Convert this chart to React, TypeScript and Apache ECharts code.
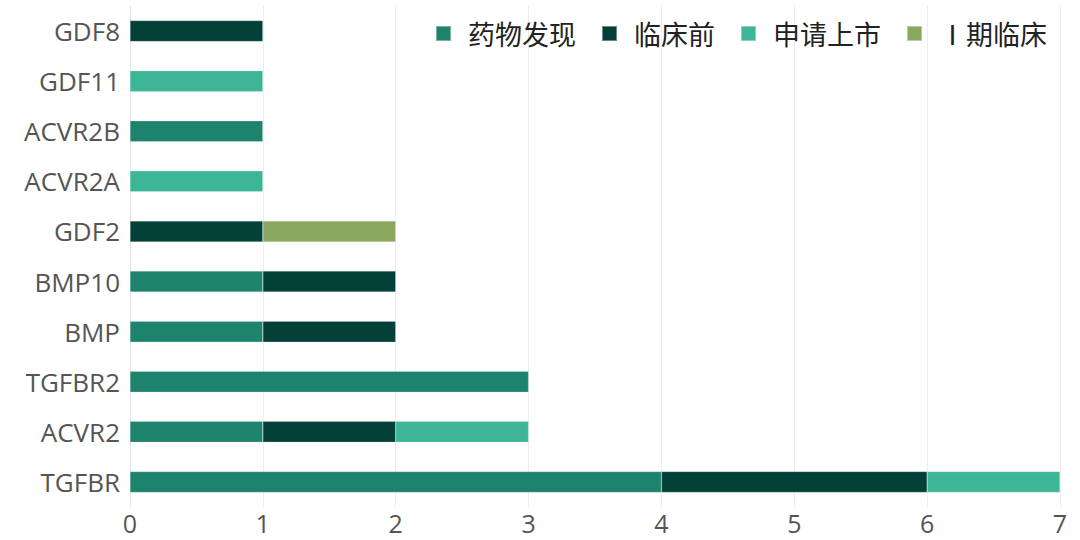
import React, { useEffect, useRef } from 'react';
import * as echarts from 'echarts';

const categories = ['TGFBR', 'ACVR2', 'TGFBR2', 'BMP', 'BMP10', 'GDF2', 'ACVR2A', 'ACVR2B', 'GDF11', 'GDF8'];
const seriesNames = ['药物发现', '临床前', '申请上市', 'Ⅰ期临床'];
const discovery = [4, 1, 3, 1, 1, 0, 0, 1, 0, 0];
const preclinical = [2, 1, 0, 1, 1, 1, 0, 0, 0, 1];
const filing = [1, 1, 0, 0, 0, 0, 1, 0, 1, 0];
const phase1 = [0, 0, 0, 0, 0, 1, 0, 0, 0, 0];
const colors = ['#1e836d', '#034037', '#3cb697', '#89a75e'];

function App() {
  const chartRef = useRef(null);

  useEffect(() => {
    const chart = echarts.init(chartRef.current, null, { renderer: 'svg' });
    const values = [discovery, preclinical, filing, phase1];

    const options = {
      animation: false,
      color: colors,
      legend: {
        right: 28,
        top: 15,
        itemWidth: 15,
        itemHeight: 15,
        itemGap: 25,
        icon: 'rect',
        textStyle: {
          fontSize: 27,
          color: '#222',
          fontFamily: 'Noto Sans CJK SC',
          padding: [0, 0, 0, 12],
        },
        data: seriesNames,
      },
      grid: { left: 130, right: 20, top: 6, bottom: 33 },
      xAxis: {
        type: 'value',
        min: 0,
        max: 7,
        interval: 1,
        axisLine: { show: false },
        axisTick: { show: false },
        splitLine: { lineStyle: { color: '#eeeeee' } },
        axisLabel: { fontSize: 25, color: '#555', fontFamily: 'Open Sans', margin: 3 },
      },
      yAxis: {
        type: 'category',
        data: categories,
        axisLine: { lineStyle: { color: '#e4e4e4' } },
        axisTick: { lineStyle: { color: '#e4e4e4' }, length: 7 },
        axisLabel: { fontSize: 26, color: '#555', fontFamily: 'Open Sans', margin: 10 },
      },
      series: seriesNames.map((name, i) => ({
        name,
        type: 'bar',
        stack: 'total',
        barWidth: 21,
        itemStyle: { borderColor: 'rgba(255,255,255,0.4)', borderWidth: 0.5 },
        data: values[i].map((v) => (v === 0 ? null : v)),
      })),
    };

    chart.setOption(options);

    return () => {
      chart.dispose();
    };
  }, []);

  return (
    <div
      ref={chartRef}
      style={{ position: 'absolute', left: 0, top: 0, width: '1080px', height: '540px' }}
    ></div>
  );
}

export default App;
